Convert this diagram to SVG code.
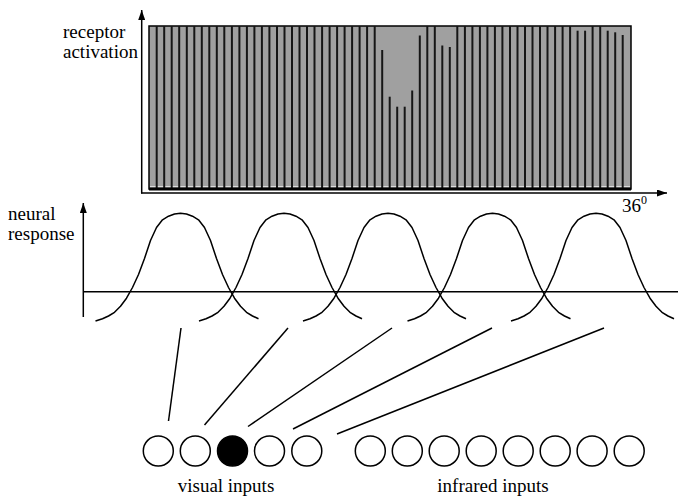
<svg xmlns="http://www.w3.org/2000/svg" xmlns:xlink="http://www.w3.org/1999/xlink" width="678" height="497" viewBox="0 0 678 497">
<style>
.t{font-family:'Liberation Serif','Times New Roman',Times,serif;fill:#000;font-size:19px}
.ax{stroke:#000;stroke-width:1.5;fill:none}
.bar{stroke:#161616;stroke-width:2}
.bell{stroke:#000;stroke-width:1.5;fill:none;stroke-linejoin:round}
.con{stroke:#000;stroke-width:1.5}
.in{fill:#fff;stroke:#000;stroke-width:1.5}
.on{fill:#000;stroke:#000;stroke-width:1.5}
</style>
<defs>
<marker id="arr" markerUnits="userSpaceOnUse" markerWidth="10" markerHeight="7" refX="10" refY="3.5" orient="auto"><path d="M0,0 L10,3.5 L0,7 Z" fill="#000"/></marker>
<path id="bellshape" d="M-85,321 L-78,318.8 L-72,316 L-66,312.3 L-60,306.3 L-54,298.2 L-48,287.5 L-42,274.5 L-36,258.5 L-30,240.5 L-24,227.5 L-18,219.8 L-12,216.2 L-6,214 L0,213.3 L6,214 L12,216.2 L18,219.8 L24,227.5 L30,240.5 L36,258.5 L42,274.5 L48,287.5 L54,298.2 L60,306.3 L66,312.3 L72,316 L78,318.8"/>
</defs>

<g id="activation-chart">
<rect x="149" y="26" width="482" height="163" fill="#a0a0a0" stroke="#000" stroke-width="1.5"/>
<line x1="150" y1="186.5" x2="630" y2="186.5" stroke="#dcdcdc" stroke-width="1.2"/>
<g id="bars">
<line class="bar" x1="156.7" y1="188" x2="156.7" y2="26"/>
<line class="bar" x1="164.2" y1="188" x2="164.2" y2="26"/>
<line class="bar" x1="171.7" y1="188" x2="171.7" y2="26"/>
<line class="bar" x1="179.2" y1="188" x2="179.2" y2="26"/>
<line class="bar" x1="186.8" y1="188" x2="186.8" y2="26"/>
<line class="bar" x1="194.3" y1="188" x2="194.3" y2="26"/>
<line class="bar" x1="201.8" y1="188" x2="201.8" y2="26"/>
<line class="bar" x1="209.3" y1="188" x2="209.3" y2="26"/>
<line class="bar" x1="216.8" y1="188" x2="216.8" y2="26"/>
<line class="bar" x1="224.3" y1="188" x2="224.3" y2="26"/>
<line class="bar" x1="231.9" y1="188" x2="231.9" y2="26"/>
<line class="bar" x1="239.4" y1="188" x2="239.4" y2="26"/>
<line class="bar" x1="246.9" y1="188" x2="246.9" y2="26"/>
<line class="bar" x1="254.4" y1="188" x2="254.4" y2="26"/>
<line class="bar" x1="261.9" y1="188" x2="261.9" y2="26"/>
<line class="bar" x1="269.4" y1="188" x2="269.4" y2="26"/>
<line class="bar" x1="277.0" y1="188" x2="277.0" y2="26"/>
<line class="bar" x1="284.5" y1="188" x2="284.5" y2="26"/>
<line class="bar" x1="292.0" y1="188" x2="292.0" y2="26"/>
<line class="bar" x1="299.5" y1="188" x2="299.5" y2="26"/>
<line class="bar" x1="307.0" y1="188" x2="307.0" y2="26"/>
<line class="bar" x1="314.5" y1="188" x2="314.5" y2="26"/>
<line class="bar" x1="322.1" y1="188" x2="322.1" y2="26"/>
<line class="bar" x1="329.6" y1="188" x2="329.6" y2="26"/>
<line class="bar" x1="337.1" y1="188" x2="337.1" y2="26"/>
<line class="bar" x1="344.6" y1="188" x2="344.6" y2="26"/>
<line class="bar" x1="352.1" y1="188" x2="352.1" y2="26"/>
<line class="bar" x1="359.6" y1="188" x2="359.6" y2="26"/>
<line class="bar" x1="367.1" y1="188" x2="367.1" y2="26"/>
<line class="bar" x1="374.7" y1="188" x2="374.7" y2="26"/>
<line class="bar" x1="382.2" y1="188" x2="382.2" y2="50"/>
<line class="bar" x1="389.7" y1="188" x2="389.7" y2="96.7"/>
<line class="bar" x1="397.2" y1="188" x2="397.2" y2="106.7"/>
<line class="bar" x1="404.7" y1="188" x2="404.7" y2="106.7"/>
<line class="bar" x1="412.2" y1="188" x2="412.2" y2="90.5"/>
<line class="bar" x1="419.8" y1="188" x2="419.8" y2="35.5"/>
<line class="bar" x1="427.3" y1="188" x2="427.3" y2="26"/>
<line class="bar" x1="434.8" y1="188" x2="434.8" y2="26"/>
<line class="bar" x1="442.3" y1="188" x2="442.3" y2="45.5"/>
<line class="bar" x1="449.8" y1="188" x2="449.8" y2="47"/>
<line class="bar" x1="457.3" y1="188" x2="457.3" y2="26"/>
<line class="bar" x1="464.9" y1="188" x2="464.9" y2="26"/>
<line class="bar" x1="472.4" y1="188" x2="472.4" y2="26"/>
<line class="bar" x1="479.9" y1="188" x2="479.9" y2="26"/>
<line class="bar" x1="487.4" y1="188" x2="487.4" y2="26"/>
<line class="bar" x1="494.9" y1="188" x2="494.9" y2="26"/>
<line class="bar" x1="502.4" y1="188" x2="502.4" y2="26"/>
<line class="bar" x1="510.0" y1="188" x2="510.0" y2="26"/>
<line class="bar" x1="517.5" y1="188" x2="517.5" y2="26"/>
<line class="bar" x1="525.0" y1="188" x2="525.0" y2="26"/>
<line class="bar" x1="532.5" y1="188" x2="532.5" y2="26"/>
<line class="bar" x1="540.0" y1="188" x2="540.0" y2="26"/>
<line class="bar" x1="547.5" y1="188" x2="547.5" y2="26"/>
<line class="bar" x1="555.1" y1="188" x2="555.1" y2="26"/>
<line class="bar" x1="562.6" y1="188" x2="562.6" y2="26"/>
<line class="bar" x1="570.1" y1="188" x2="570.1" y2="26"/>
<line class="bar" x1="577.6" y1="188" x2="577.6" y2="30.7"/>
<line class="bar" x1="585.1" y1="188" x2="585.1" y2="30.7"/>
<line class="bar" x1="592.6" y1="188" x2="592.6" y2="26"/>
<line class="bar" x1="600.2" y1="188" x2="600.2" y2="26"/>
<line class="bar" x1="607.7" y1="188" x2="607.7" y2="30.7"/>
<line class="bar" x1="615.2" y1="188" x2="615.2" y2="32.3"/>
<line class="bar" x1="622.7" y1="188" x2="622.7" y2="35"/>
</g>
<line x1="149" y1="189" x2="631" y2="189" stroke="#000" stroke-width="3"/>
<line class="ax" x1="141.7" y1="193.5" x2="141.7" y2="10" marker-end="url(#arr)"/>
<line class="ax" x1="141" y1="193" x2="667" y2="193" marker-end="url(#arr)"/>
<text class="t" font-family="Liberation Serif, serif" font-size="18.5" x="63" y="37.5">receptor</text>
<text class="t" font-family="Liberation Serif, serif" font-size="18.5" x="63" y="58">activation</text>
<text class="t" font-family="Liberation Serif, serif" x="622" y="212">36<tspan font-size="12" dy="-8">0</tspan></text>
</g>

<g id="tuning-curves">
<line class="ax" x1="83.3" y1="317" x2="83.3" y2="203" marker-end="url(#arr)"/>
<line class="ax" x1="83.3" y1="291.7" x2="678" y2="291.7"/>
<use xlink:href="#bellshape" href="#bellshape" class="bell" transform="translate(180.5,0)"/>
<use xlink:href="#bellshape" href="#bellshape" class="bell" transform="translate(284,0)"/>
<use xlink:href="#bellshape" href="#bellshape" class="bell" transform="translate(388,0)"/>
<use xlink:href="#bellshape" href="#bellshape" class="bell" transform="translate(492.5,0)"/>
<use xlink:href="#bellshape" href="#bellshape" class="bell" transform="translate(596,0)"/>
<text class="t" font-family="Liberation Serif, serif" x="8" y="220">neural</text>
<text class="t" font-family="Liberation Serif, serif" x="8" y="240">response</text>
</g>

<g id="connectors">
<line class="con" x1="181" y1="328" x2="168.5" y2="421"/>
<line class="con" x1="288" y1="328" x2="204.5" y2="425"/>
<line class="con" x1="392" y1="328" x2="248" y2="426.5"/>
<line class="con" x1="492" y1="328" x2="293" y2="429"/>
<line class="con" x1="604" y1="328" x2="337" y2="434"/>
</g>

<g id="visual-inputs">
<circle class="in" cx="158.3" cy="451" r="15"/>
<circle class="in" cx="195.3" cy="451" r="15"/>
<circle class="on" cx="232.5" cy="451" r="15"/>
<circle class="in" cx="269.5" cy="451" r="15"/>
<circle class="in" cx="306.8" cy="451" r="15"/>
<text class="t" font-family="Liberation Serif, serif" x="226" y="492" text-anchor="middle">visual inputs</text>
</g>

<g id="infrared-inputs">
<circle class="in" cx="370.3" cy="451" r="15"/>
<circle class="in" cx="407.3" cy="451" r="15"/>
<circle class="in" cx="444.2" cy="451" r="15"/>
<circle class="in" cx="481.2" cy="451" r="15"/>
<circle class="in" cx="518.2" cy="451" r="15"/>
<circle class="in" cx="555.2" cy="451" r="15"/>
<circle class="in" cx="592.1" cy="451" r="15"/>
<circle class="in" cx="629.2" cy="451" r="15"/>
<text class="t" font-family="Liberation Serif, serif" x="493" y="492" text-anchor="middle">infrared inputs</text>
</g>
</svg>
